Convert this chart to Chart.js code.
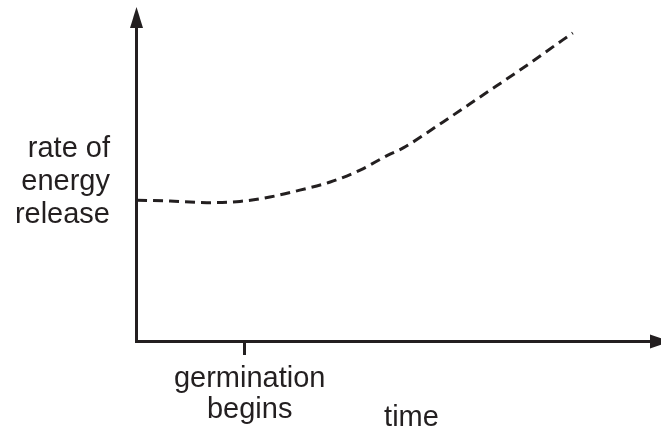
<!DOCTYPE html>
<html>
<head>
<meta charset="utf-8">
<script src="https://cdn.jsdelivr.net/npm/chart.js@4.4.1/dist/chart.umd.min.js"></script>
<style>
  html, body { margin: 0; padding: 0; background: #ffffff; }
  canvas { display: block; }
</style>
</head>
<body>
<canvas id="myChart" width="661" height="437"></canvas>
<script>
// dados (unidades arbitrárias 0-100)
const timeValues = [0.2, 6.5, 13.5, 19.8, 25.5, 31.2, 37.0, 42.7, 48.0, 50.9, 58.5, 66.1, 73.7, 81.3, 83.2];
const rateValues = [45.0, 44.7, 44.2, 44.6, 46.0, 48.2, 50.8, 54.6, 59.4, 61.7, 70.0, 78.6, 87.2, 96.2, 98.4];
const xTickValues = [20.7];
const xTickLabels = [['germination', 'begins']];
const yTickValues = [50.8];
const yTickLabels = [['rate of', 'energy', 'release']];
const xTitle = 'time';

const ink = '#231f20';
const fontFamily = '"Liberation Sans", Arial, sans-serif';

// desenha as setas nos eixos
const arrowPlugin = {
    id: 'arrows',
    afterLayout(chart) {
        // o título "time" fica um pouco à direita do centro no original
        chart.scales.x.right += 26;
    },
    afterDraw(chart) {
        const ctx = chart.ctx;
        const area = chart.chartArea;
        ctx.save();
        ctx.fillStyle = ink;
        // seta do eixo Y
        ctx.beginPath();
        ctx.moveTo(area.left + 0.5, area.top - 21);
        ctx.lineTo(area.left + 7, area.top);
        ctx.lineTo(area.left - 6, area.top);
        ctx.closePath();
        ctx.fill();
        // seta do eixo X
        ctx.beginPath();
        ctx.moveTo(area.right + 10, area.bottom + 0.5);
        ctx.lineTo(area.right - 11, area.bottom + 7.5);
        ctx.lineTo(area.right - 11, area.bottom - 6.5);
        ctx.closePath();
        ctx.fill();
        ctx.restore();
    }
};

const ctx = document.getElementById('myChart').getContext('2d');
const myChart = new Chart(ctx, {
    type: 'line',
    data: {
        datasets: [{
            data: timeValues.map((t, i) => ({ x: t, y: rateValues[i] })),
            borderColor: ink,
            borderWidth: 3,
            borderDash: [10, 6],
            pointRadius: 0,
            cubicInterpolationMode: 'monotone',
            fill: false
        }]
    },
    options: {
        responsive: false,
        animation: false,
        devicePixelRatio: 1,
        layout: { padding: { top: 28, right: 0, bottom: 0, left: 0 } },
        plugins: {
            legend: { display: false },
            tooltip: { enabled: false }
        },
        scales: {
            x: {
                type: 'linear',
                min: 0,
                max: 100,
                afterFit(scale) {
                    scale.height = 96;
                    scale.paddingLeft = 0;
                    scale.paddingRight = 0;
                },
                afterBuildTicks(scale) { scale.ticks = xTickValues.map(v => ({ value: v })); },
                border: { display: true, color: ink, width: 3 },
                grid: { drawOnChartArea: false, drawTicks: true, tickLength: 14, color: ink, lineWidth: 3 },
                ticks: {
                    padding: 8,
                    labelOffset: 5,
                    maxRotation: 0,
                    autoSkip: false,
                    color: ink,
                    font: { family: fontFamily, size: 29, lineHeight: 1.07 },
                    callback: (value, index) => xTickLabels[index]
                },
                title: {
                    display: true,
                    text: xTitle,
                    color: ink,
                    padding: { top: 0, bottom: 2 },
                    font: { family: fontFamily, size: 29, lineHeight: 1.2 }
                }
            },
            y: {
                type: 'linear',
                min: 0,
                max: 100,
                afterFit(scale) {
                    scale.width = 136;
                    scale.paddingTop = 0;
                    scale.paddingBottom = 0;
                },
                afterBuildTicks(scale) { scale.ticks = yTickValues.map(v => ({ value: v })); },
                border: { display: true, color: ink, width: 3 },
                grid: { display: false, drawTicks: false },
                ticks: {
                    padding: 26,
                    autoSkip: false,
                    color: ink,
                    crossAlign: 'near',
                    font: { family: fontFamily, size: 29, lineHeight: 1.14 },
                    callback: (value, index) => yTickLabels[index]
                }
            }
        }
    },
    plugins: [arrowPlugin]
});
</script>
</body>
</html>
